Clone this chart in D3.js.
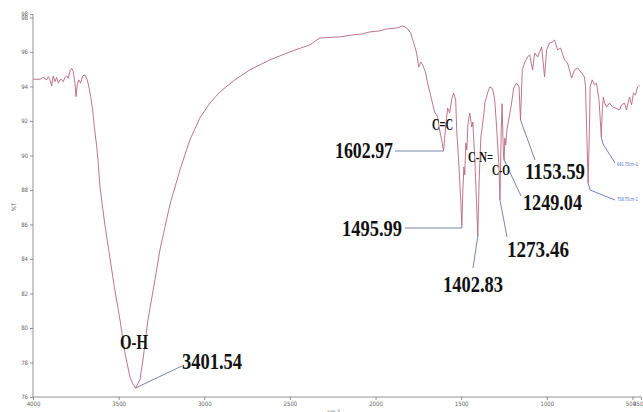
<!DOCTYPE html>
<html>
<head>
<meta charset="utf-8">
<script src="https://cdn.jsdelivr.net/npm/d3@7"></script>
<style>
  body { margin: 0; background: #fff; }
  svg { display: block; }
  .axis path, .axis line { stroke: #7a7a7a; stroke-width: 0.8; }
  .axis text { fill: #666; font-family: "DejaVu Sans Condensed", "Liberation Sans Narrow", sans-serif; font-size: 6px; }
</style>
</head>
<body>
<svg width="643" height="412"></svg>
<script>
const width = 643, height = 412;
const margin = {top: 14, right: 2, bottom: 15, left: 33};

// spectrum, wavenumber (cm-1) and %T
const wavenumbers = [3998,3959,3940,3920,3911,3901,3891,3882,3872,3862,3852,3842,3833,3823,3813,3803,3794,3784,3774,3765,
  3755,3749,3742,3732,3722,3710,3697,3683,3672,3663,3652,3642,3628,3619,3609,3580,3551,3522,3492,3463,3434,3417,3401.54,
  3376,3358,3329,3288,3259,3201,3142,3084,3026,2967,2909,2822,2734,2617,2501,2384,2326,2209,2133,2081,2034,1976,1935,
  1876,1841,1818,1795,1777,1760,1748,1736,1725,1707,1696,1672,1655,1637,1626,1612,1602.97,1591,1579,1567,1556,1544,
  1532,1526,1515,1503,1495.99,1490,1484,1479,1473,1467,1461,1450,1438,1432,1420,1402.83,1395,1385,1368,1362,1344,1333,
  1321,1315,1304,1292,1280,1273.46,1266,1261,1256,1252,1249.04,1245,1240,1233,1209,1193,1177,1162,1153.59,1143,1130,
  1112,1100,1083,1071,1054,1030,1013,1001,984,966,955,937,920,896,879,855,838,820,797,780,774,758.75,750,747,735,722,
  710,695,681.75,676,670,663,651,634,616,599,575,564,546,535,517,505,494,482,470,458];
const transmittance = [94.42,94.42,94.53,94.38,94.57,94.38,94.03,94.61,94.28,94.53,94.19,94.38,94.42,94.28,94.53,94.61,94.47,94.92,95.05,94.86,
  94.19,93.41,94.09,94.38,94.19,94.61,94.67,94.38,93.90,93.41,92.64,91.67,90.51,89.55,88.17,85.97,84.06,82.20,80.46,78.55,77.16,76.75,76.52,
  76.99,78.14,80.46,82.78,84.52,87.13,89.16,90.90,92.17,93.04,93.68,94.38,94.96,95.54,96.00,96.41,96.81,96.87,96.99,97.04,97.16,97.22,97.33,
  97.39,97.51,97.39,97.10,96.52,95.94,95.13,95.42,95.25,94.78,94.20,93.22,92.52,92.23,91.48,90.80,90.26,91.65,92.75,92.46,93.22,93.62,
  93.22,91.48,89.74,87.50,85.97,88.00,89.33,88.87,90.72,90.32,91.77,92.46,91.65,91.94,89.74,85.33,88.58,91.07,92.35,93.04,93.68,93.97,
  93.91,93.80,93.22,91.48,89.50,87.42,91.50,93.00,91.00,89.91,89.74,91.00,90.60,91.48,92.81,93.91,94.20,93.97,92.06,94.96,95.36,
  95.71,95.83,94.96,95.94,95.71,96.29,94.55,96.12,96.52,96.58,96.70,96.12,96.23,95.54,95.36,94.49,94.96,95.07,94.78,94.55,93.97,88.41,92.06,93.97,94.38,94.09,
  94.20,93.22,91.07,92.64,93.39,93.04,92.81,93.04,92.81,92.75,92.64,92.93,93.04,92.64,93.39,92.93,93.62,93.51,93.97,94.09];

// labelled peaks
const peakWn = [3401.54, 1602.97, 1495.99, 1402.83, 1273.46, 1249.04, 1153.59, 758.75, 681.75];
const peakT  = [76.52, 90.26, 85.97, 85.33, 87.42, 89.74, 92.06, 88.41, 91.07];

const xTicks = [4000, 3500, 3000, 2500, 2000, 1500, 1000, 500, 450];
const yTicks = [76, 78, 80, 82, 84, 86, 88, 90, 92, 94, 96, 98, 98.2];

// where each peak label sits (pixels) and where its leader line ends
const peakLabels = [
  {text: "3401.54", x: 182, y: 369, w: 60, size: 24, end: [[182, 366]]},
  {text: "1602.97", x: 335, y: 158, w: 58, size: 23, end: [[395, 151]], flat: true},
  {text: "1495.99", x: 342, y: 236, w: 60, size: 24, end: [[405, 228]], flat: true},
  {text: "1402.83", x: 443, y: 292, w: 60, size: 24, end: [[473, 268]]},
  {text: "1273.46", x: 507, y: 257, w: 62, size: 24, end: [[507, 237]]},
  {text: "1249.04", x: 523, y: 210, w: 59, size: 24, end: [[521, 196]]},
  {text: "1153.59", x: 525, y: 179, w: 60, size: 24, end: [[535, 160]]},
  {text: "758.75cm-1", x: 617, y: 201, w: 21, size: 5, small: true, end: [[590, 190], [615, 200]]},
  {text: "681.75cm-1", x: 617, y: 166, w: 21, size: 5, small: true, end: [[603, 144], [615, 163]]}
];
const groupLabels = [
  {text: "O-H", x: 120, y: 349, w: 28, size: 20},
  {text: "C=C", x: 432, y: 130, w: 21, size: 16},
  {text: "C-N=", x: 468, y: 162, w: 25, size: 15},
  {text: "C-O", x: 492, y: 175, w: 18, size: 14}
];

const svg = d3.select("svg");

const x = d3.scaleLinear().domain([4000, 450]).range([margin.left, width - margin.right]);
const y = d3.scaleLinear().domain([76, 98.2]).range([height - margin.bottom, margin.top]);

// axes
svg.append("g")
  .attr("class", "axis")
  .attr("transform", `translate(0, ${height - margin.bottom})`)
  .call(d3.axisBottom(x).tickValues(xTicks).tickSize(3).tickPadding(2).tickFormat(d3.format("d")))
  .call(g => g.select(".domain").attr("d", `M${margin.left},0H${width - margin.right}`))
  .call(g => g.selectAll(".tick text").filter(d => d === 450).attr("text-anchor", "end").attr("dx", 2))
  .call(g => g.selectAll(".tick text").filter(d => d === 500).attr("dx", -2));

svg.append("g")
  .attr("class", "axis")
  .attr("transform", `translate(${margin.left}, 0)`)
  .call(d3.axisLeft(y).tickValues(yTicks).tickSize(3).tickPadding(2).tickFormat(d3.format(".0f")))
  .call(g => g.select(".domain").attr("d", `M0,${margin.top}V${height - margin.bottom}`));

svg.append("text")
  .attr("transform", "translate(16, 207) rotate(-90)")
  .attr("text-anchor", "middle")
  .attr("fill", "#666")
  .attr("font-family", "DejaVu Sans Condensed, sans-serif")
  .attr("font-size", "6px")
  .text("%T");

svg.append("text")
  .attr("x", 334)
  .attr("y", 414)
  .attr("text-anchor", "middle")
  .attr("fill", "#666")
  .attr("font-family", "DejaVu Sans Condensed, sans-serif")
  .attr("font-size", "6px")
  .text("cm-1");

// spectrum
const spectrum = wavenumbers.map((w, i) => [w, transmittance[i]]);
const line = d3.line().x(d => x(d[0])).y(d => y(d[1]));

svg.append("path")
  .datum(spectrum)
  .attr("fill", "none")
  .attr("stroke", "#b8677d")
  .attr("stroke-width", 0.9)
  .attr("stroke-linejoin", "round")
  .attr("d", line);

// leader lines from peaks to labels
peakLabels.forEach((lab, i) => {
  const px = x(peakWn[i]), py = y(peakT[i]);
  const pts = [[px, py]].concat(lab.end);
  if (lab.flat) pts[0] = [px, lab.end[0][1]];
  svg.append("path")
    .attr("d", d3.line()(pts))
    .attr("fill", "none")
    .attr("stroke", lab.small ? "#4a63b8" : "#5b6598")
    .attr("stroke-width", 0.8);
  if (lab.flat) {
    svg.append("line")
      .attr("x1", px).attr("x2", px)
      .attr("y1", py).attr("y2", lab.end[0][1])
      .attr("stroke", "#5b6598").attr("stroke-width", 0.8);
  }
});

peakLabels.forEach(lab => {
  svg.append("text")
    .attr("x", lab.x)
    .attr("y", lab.y)
    .attr("textLength", lab.w)
    .attr("lengthAdjust", "spacingAndGlyphs")
    .attr("font-family", lab.small ? "DejaVu Sans Condensed, sans-serif" : "Liberation Serif, Times New Roman, serif")
    .attr("font-weight", lab.small ? "normal" : "bold")
    .attr("font-size", lab.size + "px")
    .attr("fill", lab.small ? "#3a5cc8" : "#111")
    .text(lab.text);
});

groupLabels.forEach(lab => {
  svg.append("text")
    .attr("x", lab.x)
    .attr("y", lab.y)
    .attr("textLength", lab.w)
    .attr("lengthAdjust", "spacingAndGlyphs")
    .attr("font-family", "Liberation Serif, Times New Roman, serif")
    .attr("font-weight", "bold")
    .attr("font-size", lab.size + "px")
    .attr("fill", "#111")
    .text(lab.text);
});
</script>
</body>
</html>
